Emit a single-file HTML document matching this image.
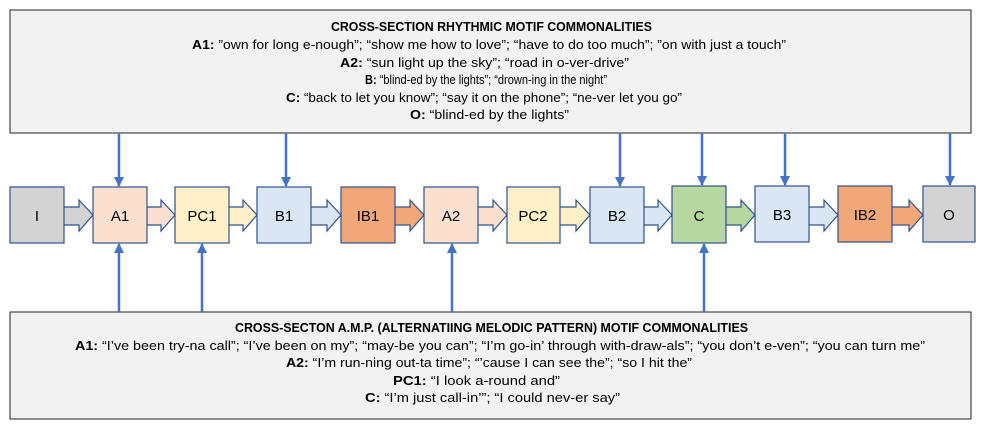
<!DOCTYPE html>
<html><head><meta charset="utf-8"><style>body{margin:0;background:#fff}svg{display:block}</style></head><body>
<svg width="981" height="429" viewBox="0 0 981 429" xmlns="http://www.w3.org/2000/svg" font-family="Liberation Sans, sans-serif">
<defs><marker id="ah" viewBox="0 0 10 10" refX="9" refY="5" markerWidth="4" markerHeight="4" orient="auto"><path d="M0,0L10,5L0,10z" fill="#4472C4"/></marker></defs>
<rect x="10" y="10" width="961" height="123" fill="#f2f2f2" stroke="#222" stroke-width="1"/>
<rect x="10" y="312" width="961" height="107" fill="#f2f2f2" stroke="#222" stroke-width="1"/>
<g font-size="13" fill="#000" text-anchor="start" lengthAdjust="spacingAndGlyphs">
<text x="331" y="31" textLength="321" lengthAdjust="spacingAndGlyphs" font-weight="bold">CROSS-SECTION RHYTHMIC MOTIF COMMONALITIES</text>
<text x="192" y="49" textLength="594" lengthAdjust="spacingAndGlyphs"><tspan font-weight="bold">A1:</tspan> ”own for long e-nough”; “show me how to love”; “have to do too much”; ”on with just a touch”</text>
<text x="340" y="67" textLength="289" lengthAdjust="spacingAndGlyphs"><tspan font-weight="bold">A2:</tspan> “sun light up the sky”; “road in o-ver-drive”</text>
<text x="365" y="84" textLength="242" lengthAdjust="spacingAndGlyphs"><tspan font-weight="bold">B:</tspan> “blind-ed by the lights”; “drown-ing in the night”</text>
<text x="286" y="102" textLength="396" lengthAdjust="spacingAndGlyphs"><tspan font-weight="bold">C:</tspan> “back to let you know”; “say it on the phone”; “ne-ver let you go”</text>
<text x="410" y="119" textLength="159" lengthAdjust="spacingAndGlyphs"><tspan font-weight="bold">O:</tspan> “blind-ed by the lights”</text>
<text x="235" y="332" textLength="513" lengthAdjust="spacingAndGlyphs" font-weight="bold">CROSS-SECTON A.M.P. (ALTERNATIING MELODIC PATTERN) MOTIF COMMONALITIES</text>
<text x="75" y="350" textLength="850" lengthAdjust="spacingAndGlyphs"><tspan font-weight="bold">A1:</tspan> “I’ve been try-na call”; “I’ve been on my”; “may-be you can”; “I’m go-in’ through with-draw-als”; “you don’t e-ven”; “you can turn me”</text>
<text x="286" y="367" textLength="406" lengthAdjust="spacingAndGlyphs"><tspan font-weight="bold">A2:</tspan> “I’m run-ning out-ta time”; “’cause I can see the”; “so I hit the”</text>
<text x="393" y="385" textLength="167" lengthAdjust="spacingAndGlyphs"><tspan font-weight="bold">PC1:</tspan> “I look a-round and”</text>
<text x="365" y="402" textLength="255" lengthAdjust="spacingAndGlyphs"><tspan font-weight="bold">C:</tspan> “I’m just call-in’”; “I could nev-er say”</text>
</g>
<g stroke="#2F528F" stroke-width="1.2">
<!-- arrows: from source right edge to next left -->
<polygon points="60,207 79,207 79,200 93,215 79,231 79,225 60,225" fill="#d3d3d3"/>
<polygon points="143,207 161,207 161,200 175,215 161,231 161,225 143,225" fill="#fbe0d0"/>
<polygon points="225,207 243,207 243,200 257,215 243,231 243,225 225,225" fill="#fff0c8"/>
<polygon points="307,207 327,207 327,200 341,215 327,231 327,225 307,225" fill="#dae6f3"/>
<polygon points="391,207 410,207 410,200 424,215 410,231 410,225 391,225" fill="#f0a878"/>
<polygon points="474,207 493,207 493,200 507,215 493,231 493,225 474,225" fill="#fbe0d0"/>
<polygon points="556,207 576,207 576,200 590,215 576,231 576,225 556,225" fill="#fff0c8"/>
<polygon points="640,207 658,207 658,200 672,215 658,231 658,225 640,225" fill="#dae6f3"/>
<polygon points="722,207 741,207 741,200 755,215 741,231 741,225 722,225" fill="#b6d7a0"/>
<polygon points="805,207 824,207 824,200 838,215 824,231 824,225 805,225" fill="#dae6f3"/>
<polygon points="888,207 909,207 909,200 923,215 909,231 909,225 888,225" fill="#f0a878"/>
<rect x="10" y="187" width="54" height="56" fill="#d3d3d3"/>
<rect x="93" y="187" width="54" height="56" fill="#fbe0d0"/>
<rect x="175" y="187" width="54" height="56" fill="#fff0c8"/>
<rect x="257" y="187" width="54" height="56" fill="#dae6f3"/>
<rect x="341" y="187" width="54" height="56" fill="#f0a878"/>
<rect x="424" y="187" width="54" height="56" fill="#fbe0d0"/>
<rect x="507" y="187" width="53" height="56" fill="#fff0c8"/>
<rect x="590" y="187" width="54" height="56" fill="#dae6f3"/>
<rect x="672" y="186" width="54" height="57" fill="#b6d7a0"/>
<rect x="755" y="186" width="54" height="56" fill="#dae6f3"/>
<rect x="838" y="186" width="54" height="56" fill="#f0a878"/>
<rect x="923" y="186" width="52" height="56" fill="#d3d3d3"/>
</g>
<g font-size="15" text-anchor="middle" fill="#000">
<text x="37" y="221">I</text><text x="120" y="221">A1</text><text x="202" y="221">PC1</text>
<text x="284" y="221">B1</text><text x="368" y="221">IB1</text><text x="451" y="221">A2</text>
<text x="533" y="221">PC2</text><text x="617" y="221">B2</text><text x="699" y="221">C</text>
<text x="782" y="220">B3</text><text x="865" y="220">IB2</text><text x="949" y="220">O</text>
</g>
<g stroke="#4472C4" stroke-width="2.5" marker-end="url(#ah)">
<line x1="119" y1="133" x2="119" y2="186"/>
<line x1="286" y1="133" x2="286" y2="186"/>
<line x1="620" y1="133" x2="620" y2="186"/>
<line x1="702" y1="133" x2="702" y2="185"/>
<line x1="785" y1="133" x2="785" y2="185"/>
<line x1="950" y1="133" x2="950" y2="185"/>
<line x1="119" y1="312" x2="119" y2="244"/>
<line x1="202" y1="312" x2="202" y2="244"/>
<line x1="452" y1="312" x2="452" y2="244"/>
<line x1="704" y1="312" x2="704" y2="244"/>
</g>
</svg>
</body></html>
